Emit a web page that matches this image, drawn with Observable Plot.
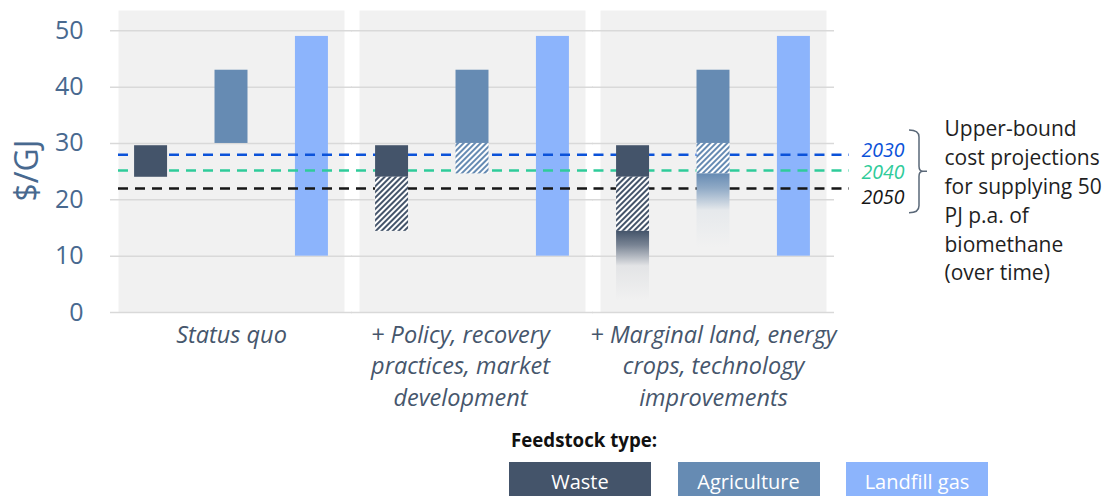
<!DOCTYPE html>
<html>
<head>
<meta charset="utf-8">
<script src="https://cdn.jsdelivr.net/npm/d3@7"></script>
<script src="https://cdn.jsdelivr.net/npm/@observablehq/plot@0.6"></script>
<style>
  html, body { margin: 0; padding: 0; background: #fff; }
  #wrap { position: relative; width: 1103px; height: 496px; overflow: hidden; font-family: "Open Sans", sans-serif; }
  #chart svg { display: block; }
  #legend { position: absolute; left: 0; top: 420px; width: 1103px; height: 76px; }
  .ltitle { position: absolute; left: 511px; top: 7px; font-weight: 700; font-size: 18.7px; color: #111; white-space: nowrap; }
  .lbox { position: absolute; top: 42px; width: 142px; height: 40px; line-height: 40px; color: #fff; font-size: 20px; text-align: center; }
</style>
</head>
<body>
<div id="wrap"><div id="chart"></div><div id="legend"></div></div>
<script>
// ---- data ----
const scenarios = [
  "Status quo",
  "+ Policy, recovery practices, market development",
  "+ Marginal land, energy crops, technology improvements"
];
const scenarioLabels = [
  "Status quo",
  "+ Policy, recovery\npractices, market\ndevelopment",
  "+ Marginal land, energy\ncrops, technology\nimprovements"
];
const feedstocks = ["Waste", "Agriculture", "Landfill gas"];
const feedstockColors = ["#44546a", "#668bb3", "#8cb4fc"];
// [low, high] $/GJ per scenario (null = no segment)
const wasteSolid = [[24, 29.6], [24, 29.6], [24, 29.6]];
const wasteHatched = [null, [14.4, 24], [14.4, 24]];
const wasteFaded = [null, null, [2, 14.4]];
const agricultureSolid = [[30, 43], [30, 43], [30, 43]];
const agricultureHatched = [null, [24.6, 30], [24.6, 30]];
const agricultureFaded = [null, null, [11.5, 24.6]];
const landfillSolid = [[10, 49], [10, 49], [10, 49]];
const projectionYears = ["2030", "2040", "2050"];
const projectionValues = [28, 25.2, 22];
const projectionColors = ["#0b52d9", "#2fcb9a", "#161616"];
const yTicks = [0, 10, 20, 30, 40, 50];
const bracketRange = [17.6, 25, 32.3];
const annotation = "Upper-bound\ncost projections\nfor supplying 50\nPJ p.a. of\nbiomethane\n(over time)";

// ---- build segments ----
const seriesDefs = [
  {f: 0, kind: "solid", ranges: wasteSolid},
  {f: 0, kind: "hatch", ranges: wasteHatched},
  {f: 0, kind: "fade", ranges: wasteFaded},
  {f: 1, kind: "solid", ranges: agricultureSolid},
  {f: 1, kind: "hatch", ranges: agricultureHatched},
  {f: 1, kind: "fade", ranges: agricultureFaded},
  {f: 2, kind: "solid", ranges: landfillSolid}
];
const segments = [];
seriesDefs.forEach(s => s.ranges.forEach((r, i) => {
  if (!r) return;
  segments.push({
    scenario: scenarios[i],
    feedstock: feedstocks[s.f],
    y1: r[0], y2: r[1],
    paint: s.kind === "solid" ? feedstockColors[s.f] : `url(#${s.kind}-${s.f})`
  });
}));
const landfillSegs = segments.filter(d => d.feedstock === "Landfill gas");
const otherSegs = segments.filter(d => d.feedstock !== "Landfill gas");

const W = 1103, H = 420, ML = 110, MR = 269, MT = 10, MB = 108;
const axisColor = "#48698f";
const font = '"Open Sans", sans-serif';
const dashPeriod = 17;
const facetStarts = [0, 233.5, 475]; // for dash phase continuity
const labelDx = [0, -12, 0];
const yearDy = [-4, 2, 9];

const plot = Plot.plot({
  width: W, height: H,
  marginLeft: ML, marginRight: MR, marginTop: MT, marginBottom: MB,
  style: {fontFamily: font, background: "transparent", overflow: "visible"},
  fx: {domain: scenarios, paddingInner: 0.0622, paddingOuter: 0.0332, axis: null, round: false},
  x: {domain: feedstocks, paddingInner: 0.59, paddingOuter: 0.2, axis: null, round: false},
  y: {domain: [0, 53.6], axis: null},
  color: {type: "identity"},
  marks: [
    Plot.frame({fill: "#f1f1f1", stroke: "none"}),
    Plot.ruleY(yTicks, {stroke: "#d9d9d9", strokeWidth: 1.5, insetLeft: -8, insetRight: -8}),
    Plot.barY(landfillSegs, {fx: "scenario", x: "feedstock", y1: "y1", y2: "y2", fill: "paint"}),
    ...scenarios.map((s, i) => Plot.ruleY(projectionValues, {
      fx: () => s, stroke: (d, j) => projectionColors[j], strokeWidth: 2.5,
      strokeDasharray: "10 7", strokeDashoffset: facetStarts[i] % dashPeriod,
      insetLeft: i === 0 ? 0 : -7.5, insetRight: i === 2 ? -23 : -7.5
    })),
    Plot.barY(otherSegs, {fx: "scenario", x: "feedstock", y1: "y1", y2: "y2", fill: "paint"}),
    Plot.axisY(yTicks, {tickSize: 0, tickPadding: 35, fontSize: 25, color: axisColor, label: null}),
    Plot.text(["$/GJ"], {facet: "super", frameAnchor: "left", rotate: -90, dx: -91, dy: 40, fontSize: 32, fill: axisColor}),
    ...scenarios.map((s, i) => Plot.text([s], {fx: d => d, text: d => scenarioLabels[scenarios.indexOf(d)], frameAnchor: "bottom", lineAnchor: "top", dx: labelDx[i], dy: 8, fontSize: 23.5, fontStyle: "italic", lineHeight: 1.34, fill: "#46566c"})),
    ...projectionValues.map((v, i) => Plot.text([i], {fx: () => scenarios[2], y: j => projectionValues[j], text: j => projectionYears[j], frameAnchor: "right", textAnchor: "start", dx: 35, dy: yearDy[i], fontSize: 19.5, fontStyle: "italic", fill: projectionColors[i]})),
    Plot.text([annotation], {facet: "super", frameAnchor: "top-right", textAnchor: "start", lineAnchor: "top", dx: 118, dy: 105, fontSize: 21, lineHeight: 1.376, fill: "#1f1f1f"})
  ]
});

// patterns & gradients
const defs = d3.select(plot).insert("defs", ":first-child");
feedstockColors.forEach((c, i) => {
  const p = defs.append("pattern").attr("id", `hatch-${i}`).attr("patternUnits", "userSpaceOnUse")
    .attr("width", 4).attr("height", 4).attr("patternTransform", "rotate(45)");
  p.append("rect").attr("width", 4).attr("height", 4).attr("fill", "#fff");
  p.append("rect").attr("width", 2).attr("height", 4).attr("fill", c);
  const g = defs.append("linearGradient").attr("id", `fade-${i}`).attr("x1", 0).attr("y1", 0).attr("x2", 0).attr("y2", 1);
  [[0, 1], [0.2, 0.7], [0.5, 0.08], [1, 0]].forEach(([o, a]) =>
    g.append("stop").attr("offset", o).attr("stop-color", d3.interpolateRgb("#f1f1f1", c)(a)));
});

// bracket
const yS = plot.scale("y");
const xr = W - MR;
const bt = yS.apply(bracketRange[2]), bm = yS.apply(bracketRange[1]), bb = yS.apply(bracketRange[0]);
const bx0 = xr + 75, bx1 = xr + 85, bx2 = xr + 93;
d3.select(plot).append("path")
  .attr("d", `M${bx0},${bt} Q${bx1},${bt} ${bx1},${bt + 7} V${bm - 5} Q${bx1},${bm} ${bx1 + 4},${bm} H${bx2} M${bx1 + 4},${bm} Q${bx1},${bm} ${bx1},${bm + 5} V${bb - 7} Q${bx1},${bb} ${bx0},${bb}`)
  .attr("fill", "none").attr("stroke", "#5a6878").attr("stroke-width", 1.5);

document.getElementById("chart").appendChild(plot);

// legend
const legend = d3.select("#legend");
legend.append("div").attr("class", "ltitle").text("Feedstock type:");
feedstocks.forEach((f, i) => legend.append("div").attr("class", "lbox")
  .style("left", `${509 + i * 168.5}px`).style("background", feedstockColors[i]).text(f));
</script>
</body>
</html>
